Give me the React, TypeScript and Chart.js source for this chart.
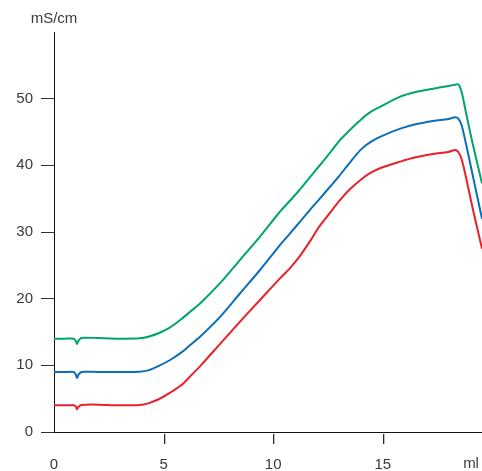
import React, { useEffect, useRef } from "react";
import { Chart, registerables } from "chart.js";

Chart.register(...registerables);

const volumeMl = [0, 0.5, 0.9, 1.0, 1.05, 1.12, 1.25, 1.5, 2, 3, 3.9, 4.3, 4.8, 5.3, 5.8, 6.2, 6.7, 7.6, 8.5, 9.4, 10.3, 10.8, 11.2, 11.7, 12.1, 12.6, 13.0, 13.5, 14.0, 14.4, 14.9, 15.8, 16.5, 17.3, 18.0, 18.3, 18.45, 18.6, 18.8, 19.1, 19.53];

const greenValues = [14.0, 14.0, 14.0, 13.6, 13.2, 13.7, 14.1, 14.15, 14.1, 14.0, 14.05, 14.3, 14.85, 15.7, 16.9, 18.0, 19.4, 22.4, 25.85, 29.3, 33.0, 34.8, 36.3, 38.3, 39.9, 41.9, 43.6, 45.3, 46.85, 47.9, 48.8, 50.3, 51.0, 51.5, 51.9, 52.1, 52.15, 51.0, 47.9, 43.3, 37.3];

const blueValues = [9.0, 9.0, 9.0, 8.6, 8.1, 8.6, 9.0, 9.05, 9.0, 9.0, 9.05, 9.25, 9.95, 10.8, 11.9, 13.0, 14.4, 17.35, 20.85, 24.3, 28.0, 29.9, 31.45, 33.4, 34.9, 36.8, 38.35, 40.4, 42.35, 43.4, 44.3, 45.5, 46.15, 46.65, 46.95, 47.2, 47.0, 46.0, 43.2, 38.6, 32.0];

const redValues = [4.0, 4.0, 4.0, 3.8, 3.4, 3.8, 4.05, 4.1, 4.1, 4.0, 4.05, 4.3, 4.95, 5.9, 7.0, 8.3, 10.0, 13.3, 16.6, 19.8, 23.0, 24.7, 26.3, 28.7, 30.8, 32.9, 34.6, 36.4, 37.85, 38.8, 39.6, 40.55, 41.2, 41.7, 42.0, 42.3, 42.0, 40.9, 38.2, 33.6, 27.5];

const yTickValues = [0, 10, 20, 30, 40, 50];
const xTickValues = [0, 5, 10, 15];
const xTickMarks = [5, 10, 15];
const yUnit = "mS/cm";
const xUnit = "ml";

const FONT = '"Liberation Sans", Arial, sans-serif';
const TEXT = "#3a3a3a";

export default function App() {
  const ref = useRef<HTMLCanvasElement>(null);
  useEffect(() => {
    if (!ref.current) return;
    const toPts = (vals: number[]) => vals.map((v, i) => ({ x: volumeMl[i], y: v }));
    const unitPlugin = {
      id: "units",
      afterDraw(chart: any) {
        const c = chart.ctx;
        const xs = chart.scales.x;
        const ys = chart.scales.y;
        const axisY = chart.chartArea.bottom;
        c.save();
        c.setLineDash([]);
        c.fillStyle = "#2a2a2a";
        xTickMarks.forEach((v) => {
          const px = Math.round(xs.getPixelForValue(v));
          c.fillRect(px, axisY + 2, 1.3, 10);
        });
        c.font = `15px ${FONT}`;
        c.fillStyle = TEXT;
        c.textAlign = "center";
        c.textBaseline = "alphabetic";
        c.fillText(yUnit, ys.right, ys.top - 9);
        c.fillText(xUnit, xs.getPixelForValue(19.03), axisY + 36);
        c.restore();
      },
    };
    const chart = new Chart(ref.current, {
      type: "line",
      data: {
        datasets: [
          { data: toPts(greenValues), borderColor: "#00a56c", borderWidth: 2 },
          { data: toPts(blueValues), borderColor: "#0a6fbb", borderWidth: 2 },
          { data: toPts(redValues), borderColor: "#e8212b", borderWidth: 2 },
        ],
      },
      options: {
        animation: false,
        responsive: false,
        devicePixelRatio: 1,
        parsing: false as any,
        layout: { padding: { top: 32, right: 0, left: 0, bottom: 0 } },
        elements: {
          point: { radius: 0 },
          line: { tension: 0.3, fill: false },
        },
        plugins: { legend: { display: false }, tooltip: { enabled: false } },
        scales: {
          x: {
            type: "linear",
            min: 0,
            max: 19.53,
            afterBuildTicks: (s: any) => {
              s.ticks = xTickValues.map((v) => ({ value: v }));
            },
            afterFit: (s: any) => {
              s.height = 39;
            },
            ticks: {
              font: { size: 15, family: FONT },
              color: TEXT,
              padding: 13,
              maxRotation: 0,
              autoSkip: false,
            },
            grid: {
              drawOnChartArea: false,
              drawTicks: true,
              tickLength: 11,
              tickWidth: 1,
              tickColor: "rgba(0,0,0,0)",
            },
            border: { display: true, color: "#111", width: 1 },
          },
          y: {
            type: "linear",
            min: 0,
            max: 60,
            afterBuildTicks: (s: any) => {
              s.ticks = yTickValues.map((v) => ({ value: v }));
            },
            afterFit: (s: any) => {
              s.width = 54;
            },
            ticks: {
              font: { size: 15, family: FONT },
              color: TEXT,
              padding: 8,
            },
            grid: {
              drawOnChartArea: false,
              drawTicks: true,
              tickLength: 13,
              tickWidth: 1,
              tickColor: "#333",
            },
            border: { display: true, color: "#111", width: 1 },
          },
        },
      },
      plugins: [unitPlugin],
    } as any);
    return () => chart.destroy();
  }, []);
  return (
    <div style={{ position: "fixed", left: 0, top: 0, width: 482, height: 471, background: "#fff" }}>
      <canvas ref={ref} width={482} height={471} style={{ display: "block" }} />
    </div>
  );
}
